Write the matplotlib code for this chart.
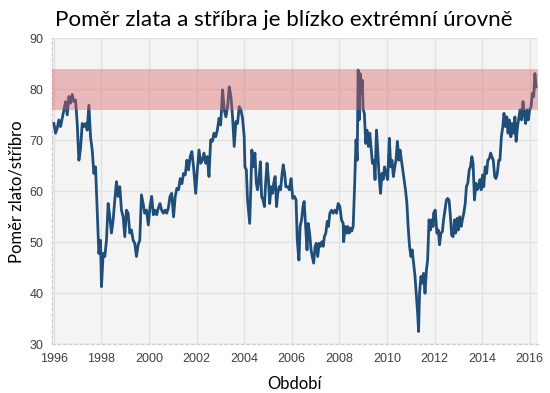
import matplotlib
matplotlib.use("Agg")
import matplotlib.pyplot as plt

# Gold/silver ratio (decimal year, ratio)
years = [
    1996.00, 1996.07, 1996.14, 1996.21, 1996.28, 1996.35, 1996.42, 1996.49, 1996.56, 1996.63,
    1996.70, 1996.77, 1996.84, 1996.91, 1996.98, 1997.05, 1997.12, 1997.19, 1997.26, 1997.33,
    1997.40, 1997.47, 1997.54, 1997.61, 1997.68, 1997.75, 1997.82, 1997.89, 1997.96, 1998.00,
    1998.07, 1998.14, 1998.21, 1998.28, 1998.35, 1998.42, 1998.49, 1998.56, 1998.63, 1998.70,
    1998.77, 1998.84, 1998.91, 1998.98, 1999.05, 1999.12, 1999.19, 1999.26, 1999.33, 1999.40,
    1999.47, 1999.54, 1999.61, 1999.68, 1999.75, 1999.82, 1999.89, 1999.97,
    2000.04, 2000.11, 2000.18, 2000.25, 2000.32, 2000.39, 2000.46, 2000.53, 2000.60, 2000.67,
    2000.74, 2000.81, 2000.88, 2000.95, 2001.03, 2001.10, 2001.17, 2001.24, 2001.31, 2001.38,
    2001.45, 2001.52, 2001.59, 2001.66, 2001.73, 2001.80, 2001.87, 2001.96, 2002.03, 2002.10,
    2002.17, 2002.24, 2002.31, 2002.38, 2002.45, 2002.52, 2002.59, 2002.66, 2002.73, 2002.80,
    2002.87, 2002.94, 2003.01, 2003.09, 2003.16, 2003.23, 2003.30, 2003.37, 2003.44, 2003.51,
    2003.58, 2003.65, 2003.72, 2003.79, 2003.86, 2003.93, 2004.00, 2004.03, 2004.09, 2004.14,
    2004.23, 2004.28, 2004.32, 2004.39, 2004.45, 2004.51, 2004.56, 2004.62, 2004.68, 2004.73,
    2004.79, 2004.85, 2004.90, 2004.96, 2005.02, 2005.07, 2005.13, 2005.19, 2005.24, 2005.30,
    2005.36, 2005.41, 2005.47, 2005.53, 2005.58, 2005.64, 2005.70, 2005.75, 2005.83, 2005.90,
    2005.97, 2006.04, 2006.11, 2006.18, 2006.23, 2006.30, 2006.35, 2006.41, 2006.47, 2006.52,
    2006.58, 2006.64, 2006.69, 2006.75, 2006.81, 2006.86, 2006.92, 2006.98, 2007.03, 2007.09,
    2007.15, 2007.20, 2007.26, 2007.32, 2007.37, 2007.43, 2007.49, 2007.54, 2007.60, 2007.67,
    2007.74, 2007.81, 2007.88, 2007.95, 2008.02, 2008.09, 2008.16, 2008.18, 2008.24, 2008.30,
    2008.35, 2008.41, 2008.47, 2008.52, 2008.58, 2008.64, 2008.70, 2008.75, 2008.79, 2008.83,
    2008.87, 2008.92, 2008.96, 2009.00, 2009.05, 2009.11, 2009.16, 2009.22, 2009.28, 2009.33,
    2009.39, 2009.45, 2009.50, 2009.56, 2009.62, 2009.67, 2009.73, 2009.79, 2009.84, 2009.90,
    2009.96, 2010.03, 2010.10, 2010.16, 2010.21, 2010.27, 2010.33, 2010.38, 2010.44, 2010.50,
    2010.55, 2010.61, 2010.67, 2010.72, 2010.78, 2010.84, 2010.89, 2010.95, 2011.01, 2011.06,
    2011.12, 2011.18, 2011.23, 2011.29, 2011.33, 2011.37, 2011.43, 2011.49, 2011.54, 2011.60,
    2011.66, 2011.71, 2011.77, 2011.83, 2011.88, 2011.94, 2011.96, 2012.03, 2012.10, 2012.16,
    2012.21, 2012.27, 2012.33, 2012.38, 2012.44, 2012.50, 2012.55, 2012.61, 2012.67, 2012.72,
    2012.78, 2012.84, 2012.89, 2012.95, 2013.00, 2013.06, 2013.12, 2013.17, 2013.23, 2013.29,
    2013.34, 2013.40, 2013.46, 2013.51, 2013.57, 2013.62, 2013.68, 2013.74, 2013.79, 2013.85,
    2013.91, 2013.96, 2014.02, 2014.07, 2014.13, 2014.19, 2014.24, 2014.30, 2014.36, 2014.41,
    2014.47, 2014.53, 2014.58, 2014.64, 2014.70, 2014.75, 2014.81, 2014.87, 2014.92, 2014.98,
    2015.04, 2015.09, 2015.15, 2015.21, 2015.26, 2015.32, 2015.38, 2015.43, 2015.49, 2015.55,
    2015.60, 2015.66, 2015.72, 2015.77, 2015.83, 2015.89, 2015.94, 2016.00, 2016.06, 2016.11,
    2016.17, 2016.22, 2016.27,
]
ratio = [
    73.3, 71.4, 72.4, 74.0, 72.7, 74.3, 76.0, 77.6, 75.0, 78.6,
    77.3, 79.0, 77.6, 77.9, 73.3, 66.1, 68.4, 73.3, 72.7, 73.3,
    72.0, 76.9, 70.7, 68.1, 63.5, 64.8, 56.3, 47.8, 50.4, 41.3,
    47.8, 47.2, 50.4, 57.6, 55.0, 51.8, 54.4, 58.3, 61.9, 59.0,
    60.9, 56.3, 55.0, 51.1, 56.3, 55.7, 51.8, 52.4, 50.4, 49.8,
    47.2, 49.5, 50.4, 59.3, 57.6, 55.7, 56.3, 53.4,
    57.0, 59.0, 55.4, 56.3, 55.4, 56.7, 57.6, 56.3, 55.7, 56.3,
    55.7, 56.7, 59.0, 59.6, 55.0, 59.0, 60.6, 60.3, 62.5, 61.5,
    63.5, 63.2, 66.1, 64.2, 66.8, 67.8, 64.8, 59.6, 64.2, 68.1,
    65.5, 66.1, 67.5, 65.5, 66.8, 62.9, 70.1, 69.8, 71.4, 70.7,
    72.0, 74.3, 73.0, 79.9, 76.0, 74.6, 76.6, 80.5, 78.6, 74.6,
    68.8, 73.7, 73.3, 76.6, 76.0, 74.3, 70.7, 64.8, 64.2, 58.3,
    53.7, 60.9, 68.1, 64.8, 67.5, 61.6, 60.3, 62.3, 65.8, 59.0,
    58.3, 57.0, 61.6, 65.5, 62.3, 57.6, 60.9, 59.6, 61.6, 62.9,
    57.0, 59.6, 60.9, 60.3, 62.9, 65.2, 63.5, 60.9, 60.9, 60.3,
    62.5, 58.6, 59.0, 58.3, 50.4, 46.5, 53.1, 54.4, 57.0, 58.0,
    53.1, 48.5, 53.7, 51.8, 48.5, 47.2, 45.9, 49.2, 49.8, 47.2,
    49.8, 49.2, 50.1, 49.2, 51.1, 51.8, 54.1, 53.1, 55.7, 56.3,
    55.7, 56.3, 55.7, 57.6, 57.0, 54.4, 53.7, 50.1, 53.1, 51.8,
    53.1, 51.8, 52.8, 52.2, 53.1, 60.9, 70.1, 66.1, 83.8, 74.0,
    83.1, 79.2, 81.8, 76.0, 75.3, 69.4, 72.0, 68.8, 71.4, 68.8,
    65.5, 66.1, 62.3, 72.0, 67.5, 62.9, 59.6, 63.5, 62.3, 64.8,
    63.5, 62.3, 70.4, 64.8, 66.1, 62.9, 64.8, 66.1, 69.8, 66.1,
    68.1, 66.1, 64.2, 62.3, 60.3, 57.6, 53.1, 49.2, 47.2, 48.5,
    45.9, 43.3, 40.0, 36.1, 32.5, 40.0, 43.3, 42.0, 43.9, 40.0,
    44.6, 46.5, 54.4, 52.4, 54.4, 53.1, 55.7, 56.3, 51.8, 52.4,
    49.5, 51.8, 52.1, 54.4, 56.3, 58.3, 58.6, 58.3, 55.0, 51.4,
    51.1, 54.4, 51.8, 54.7, 52.4, 55.0, 53.1, 54.4, 55.7, 57.6,
    60.9, 61.6, 64.2, 64.8, 66.8, 65.5, 58.3, 61.6, 60.3, 60.9,
    62.3, 60.3, 63.2, 60.9, 64.8, 63.5, 66.1, 66.4, 67.5, 66.8,
    66.1, 62.9, 62.5, 63.5, 66.1, 66.1, 70.7, 72.7, 75.3, 72.7,
    74.6, 71.4, 74.0, 70.7, 73.3, 71.4, 74.6, 69.8, 72.7, 74.6,
    76.0, 74.0, 77.6, 75.3, 73.3, 76.0, 74.0, 76.0, 76.6, 79.2,
    78.6, 83.1, 80.5, 79.2, 76.0,
]
n = min(len(years), len(ratio))
years = years[:n]
ratio = ratio[:n]

band_low, band_high = 76, 84
x_ticks = list(range(1996, 2017, 2))
y_ticks = list(range(30, 91, 10))

title = "Poměr zlata a stříbra je blízko extrémní úrovně"
xlabel = "Období"
ylabel = "Poměr zlato/stříbro"

fig = plt.figure(figsize=(5.5, 3.93), dpi=100)
ax = fig.add_axes([52 / 550, 1 - 344.2 / 393, (538 - 52) / 550, (344.2 - 38.4) / 393])
ax.set_facecolor("#f4f4f4")

ax.plot(years, ratio, color="#1f4e79", lw=2.0, zorder=3)
ax.axhspan(band_low, band_high, color="#d95f5f", alpha=0.4, lw=0, zorder=4)

ax.set_xlim(1995.92, 2016.35)
ax.set_ylim(30, 90)
ax.set_xticks(x_ticks)
ax.set_yticks(y_ticks)
ax.grid(True, color="#e2e2e2", lw=1.0, zorder=0)
ax.set_axisbelow(True)

for s in ["top", "right"]:
    ax.spines[s].set_visible(False)
for s in ["left", "bottom"]:
    ax.spines[s].set_color("#d0d0d0")
    ax.spines[s].set_linestyle((0, (2, 2)))
    ax.spines[s].set_linewidth(1.0)

ax.tick_params(length=0, labelsize=9, labelcolor="#404040", pad=6)
for lab in ax.get_xticklabels() + ax.get_yticklabels():
    lab.set_family(["Liberation Sans Narrow", "Liberation Sans"])

fig.text(0.516, 0.948, title, ha="center", va="center", fontsize=16.1, family="Lato", color="black")
ax.set_xlabel(xlabel, fontsize=12, family="Lato", color="black", labelpad=8)
ax.set_ylabel(ylabel, fontsize=12, family="Lato", color="black", labelpad=4)

fig.savefig("out.png", dpi=100)
